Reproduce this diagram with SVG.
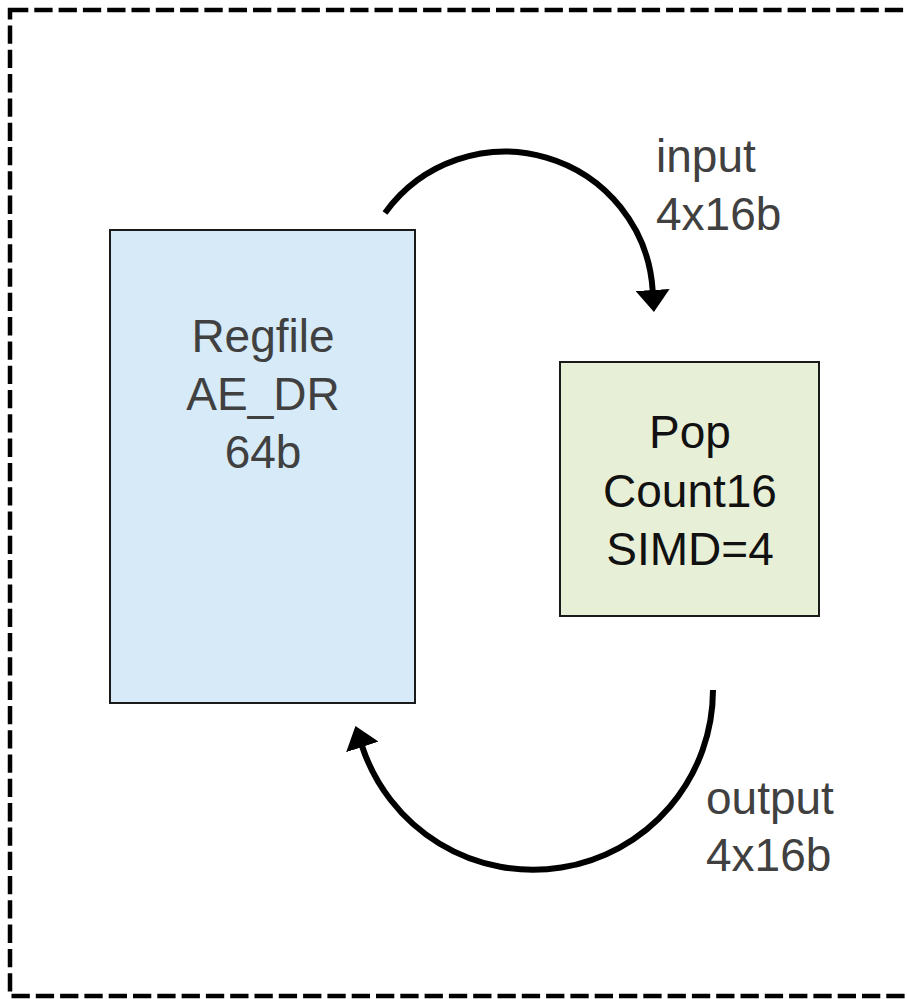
<svg xmlns="http://www.w3.org/2000/svg" width="907" height="999" viewBox="0 0 907 999">
  <style>
    .lbl { font-family: "Liberation Sans", Arial, sans-serif; font-size: 46px; fill: #404040; }
    .dark { fill: #111111; }
    .box { stroke: #1a1a1a; stroke-width: 2; }
    .conn { fill: none; stroke: #000000; stroke-width: 6; }
  </style>
  <defs>
    <marker id="arrow" viewBox="0 0 22 34" refX="1" refY="17" markerWidth="22" markerHeight="34" markerUnits="userSpaceOnUse" orient="auto">
      <path d="M0,0 L22,17 L0,34 Z" fill="#000000"/>
    </marker>
  </defs>
  <rect width="907" height="999" fill="#ffffff"/>
  <rect id="frame" x="10" y="10" width="902" height="986" fill="none" stroke="#000000" stroke-width="4.5" stroke-dasharray="18.3 6"/>

  <g id="regfile">
    <rect class="box" x="110" y="230" width="305" height="473" fill="#d6eaf7"/>
    <text class="lbl" text-anchor="middle" x="263" y="352">Regfile</text>
    <text class="lbl" text-anchor="middle" x="263" y="410">AE_DR</text>
    <text class="lbl" text-anchor="middle" x="263" y="468">64b</text>
  </g>

  <g id="popcount">
    <rect class="box" x="560" y="362" width="259" height="254" fill="#e8efd7"/>
    <text class="lbl dark" text-anchor="middle" x="690" y="448">Pop</text>
    <text class="lbl dark" text-anchor="middle" x="690" y="507">Count16</text>
    <text class="lbl dark" text-anchor="middle" x="690" y="565">SIMD=4</text>
  </g>

  <g id="connectors">
    <path class="conn" d="M385,213 A148,148 0 0 1 652.7,291" marker-end="url(#arrow)"/>
    <path class="conn" d="M713,690 A180,180 0 0 1 362,746" marker-end="url(#arrow)"/>
  </g>

  <g id="labels">
    <text class="lbl" x="656" y="172">input</text>
    <text class="lbl" x="656" y="230">4x16b</text>
    <text class="lbl" x="706" y="814">output</text>
    <text class="lbl" x="706" y="871">4x16b</text>
  </g>
</svg>
